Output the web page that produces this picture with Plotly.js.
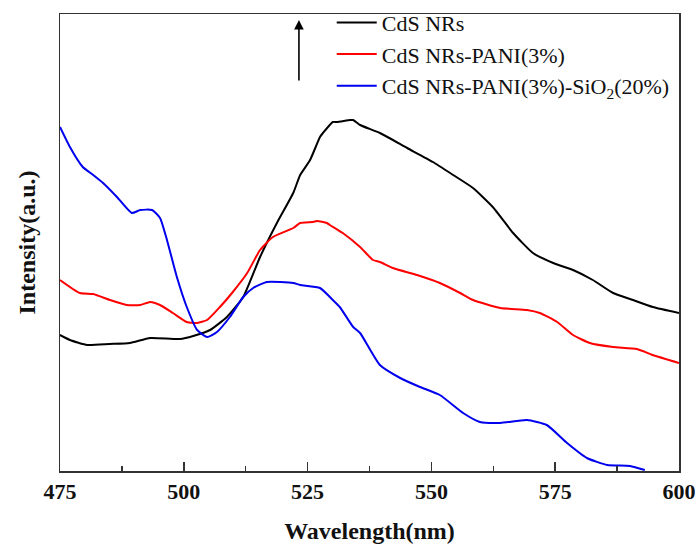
<!DOCTYPE html>
<html>
<head>
<meta charset="utf-8">
<script src="https://cdn.plot.ly/plotly-3.0.1.min.js"></script>
<style>body{margin:0;background:#fff}#chart{width:699px;height:546px}</style>
</head>
<body>
<div id="chart"></div>
<script>
// CdS NRs
const cdsX = [475.0,477.0,480.5,485.0,489.1,493.2,499.2,501.9,505.3,508.7,512.0,515.4,518.8,522.1,523.5,525.5,527.5,528.1,530.1,530.9,533.6,534.2,535.6,539.6,545.1,550.3,554.4,558.4,562.4,566.5,570.5,574.6,578.6,582.6,586.7,590.7,594.7,600.0];
const cdsY = [136,131,126,127,128,133,132,135,141,154,174,214,248,278,296,311,334,338,349,349,351,351,346,338,323,309,296,283,264,238,218,208,201,191,178,171,164,158];
// CdS NRs-PANI(3%)
const paniX = [475.0,479.0,481.7,485.1,488.5,491.2,493.2,495.2,497.8,500.6,502.7,504.7,507.3,509.9,512.8,515.4,518.0,522.1,523.5,526.1,526.9,528.9,529.5,532.1,535.6,538.2,539.6,542.2,547.1,551.7,555.8,558.4,563.9,569.3,571.9,575.4,578.6,582.0,586.7,591.5,594.7,600.0];
const paniY = [191,178,177,171,166,166,169,166,158,149,148,151,164,179,198,221,234,243,248,249,250,248,246,238,224,211,209,203,196,188,178,171,163,161,158,149,136,128,124,122,116,108];
// CdS NRs-PANI(3%)-SiO2(20%)
const sioX = [475.0,477.0,479.6,481.7,483.7,486.5,489.5,491.2,493.6,495.2,496.6,498.6,500.6,502.7,504.7,506.7,509.3,512.0,514.0,516.8,522.1,523.5,527.5,530.1,531.5,534.2,535.6,539.6,543.7,547.7,551.7,556.4,559.8,563.9,569.3,573.3,577.4,581.4,585.5,590.1,593.1];
const sioY = [344,324,304,296,288,274,258,261,261,253,231,194,164,141,134,139,154,174,183,189,188,186,183,171,164,144,138,106,93,84,76,58,49,48,51,46,28,13,6,5,1];

const names = ['CdS NRs','CdS NRs-PANI(3%)','CdS NRs-PANI(3%)-SiO<sub>2</sub>(20%)'];
const colors = ['#000000','#ff0000','#0000ee'];
const tickVals = [475,500,525,550,575,600];

const serif = 'Liberation Serif, Times New Roman, serif';
const traces = [[cdsX,cdsY],[paniX,paniY],[sioX,sioY]].map((d,i)=>({
  x:d[0], y:d[1], type:'scatter', mode:'lines', name:names[i],
  line:{color:colors[i], width:2, shape:'spline', smoothing:0.5}
}));

const layout = {
  width:699, height:546,
  margin:{l:60, r:20, t:14, b:75, autoexpand:false},
  paper_bgcolor:'#fff', plot_bgcolor:'#fff',
  showlegend:true,
  legend:{x:0.439, y:1.027, xanchor:'left', yanchor:'top', bgcolor:'rgba(0,0,0,0)',
    font:{family:serif, size:22, color:'#111'}, itemwidth:40, tracegroupgap:0},
  xaxis:{range:[475,600], tickvals:tickVals, ticktext:tickVals.map(String),
    ticks:'inside', ticklen:9, tickwidth:1.5, tickcolor:'#333',
    minor:{dtick:12.5, ticks:'inside', ticklen:5, tickwidth:1.5, tickcolor:'#333', showgrid:false},
    showline:true, mirror:true, linecolor:'#333', linewidth:1.5,
    showgrid:false, zeroline:false,
    tickfont:{family:serif, size:22, color:'#111', weight:'bold'},
    title:{text:'<b>Wavelength(nm)</b>', font:{family:serif, size:24, color:'#111'}, standoff:19}},
  yaxis:{range:[0,457], showticklabels:false, ticks:'',
    showline:true, mirror:true, linecolor:'#333', linewidth:1.5,
    showgrid:false, zeroline:false,
    title:{text:'<b>Intensity(a.u.)</b>', font:{family:serif, size:24, color:'#111'}, standoff:16}},
  annotations:[{xref:'paper', yref:'paper', x:0.386, y:0.987, ax:0, ay:62,
    showarrow:true, arrowhead:2, arrowsize:1.2, arrowwidth:1.6, arrowcolor:'#000', text:''}]
};

Plotly.newPlot('chart', traces, layout, {displayModeBar:false, staticPlot:true});
</script>
</body>
</html>
